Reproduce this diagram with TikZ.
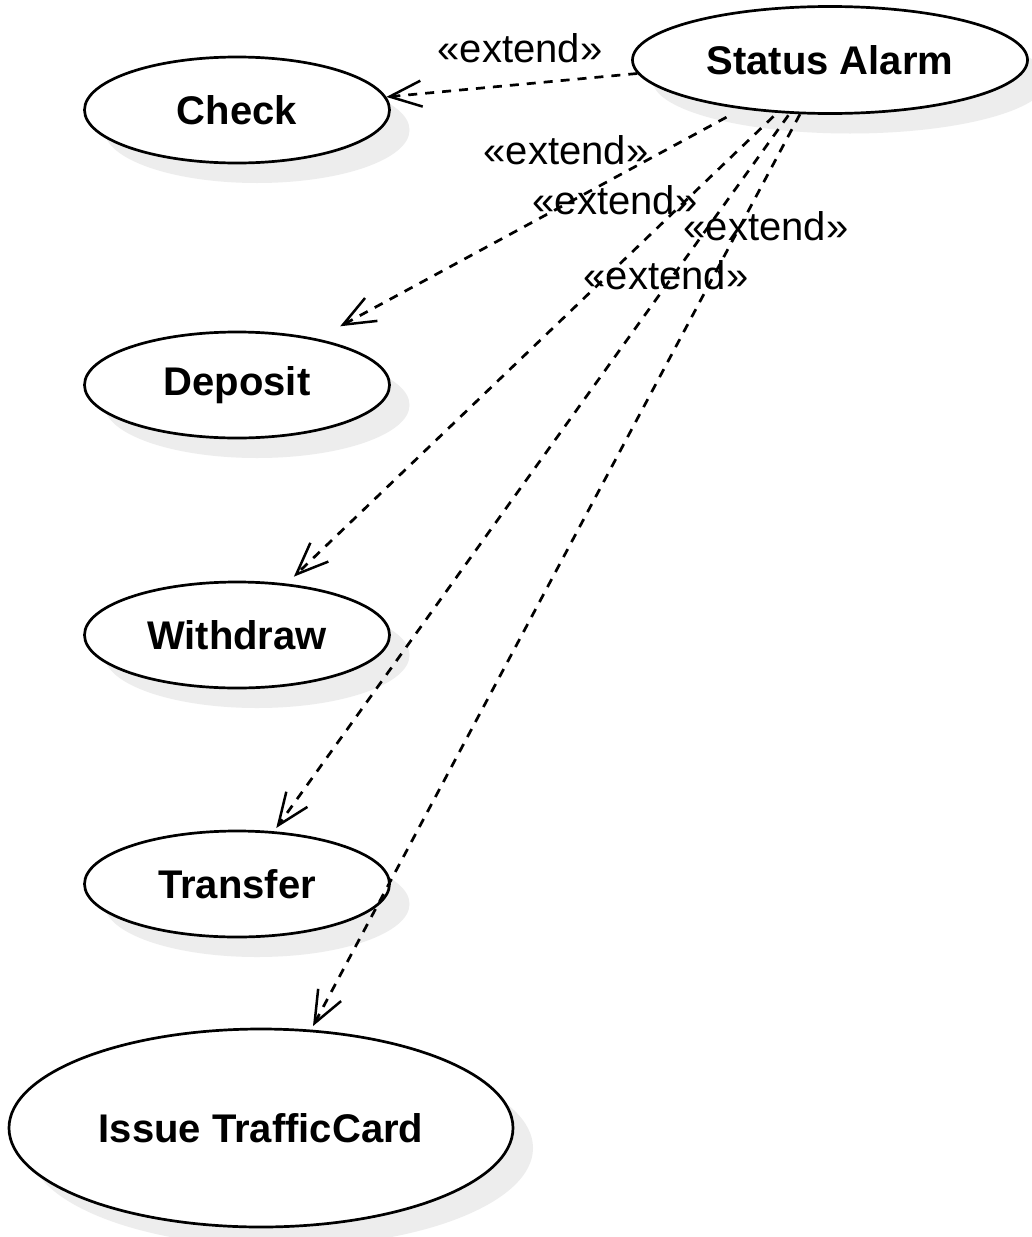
\documentclass[tikz,border=0pt]{standalone}
\usepackage{fontspec}
\setmainfont{Liberation Sans}
\usetikzlibrary{arrows.meta,shapes.geometric,shadows}
\begin{document}
\begin{tikzpicture}[x=1pt,y=-1pt,
  uc/.style={ellipse,draw=black,line width=2.7pt,fill=white,inner sep=0pt,
    font=\fontsize{40}{48}\selectfont\bfseries,
    general shadow={fill=black!7,shadow xshift=20pt,shadow yshift=-20pt}},
  ext/.style={line width=2.7pt,dash pattern=on 9pt off 8pt,
    -{Straight Barb[length=32pt,width=26pt,line width=2.5pt]}},
  lbl/.style={font=\fontsize{40}{48}\selectfont,inner sep=0pt}]
\fill[white] (0,0) rectangle (1032,1237);
\useasboundingbox (0,0) rectangle (1032,1237);
% use cases
\node[uc,minimum width=305pt,minimum height=106pt] (check) at (237,110) {Check};
\node[uc,minimum width=305pt,minimum height=106pt] (dep) at (237,385) {Deposit};
\node[uc,minimum width=305pt,minimum height=106pt] (wd) at (237,635) {Withdraw};
\node[uc,minimum width=305pt,minimum height=106pt] (tr) at (237,884) {Transfer};
\node[uc,minimum width=504pt,minimum height=198pt] (it) at (261,1128) {Issue TrafficCard};
\node[uc,minimum width=395pt,minimum height=107pt] (sa) at (830,60) {Status Alarm};
% extends
\draw[ext] (sa.184) -- (check.5);
\draw[ext,shorten <=17pt,shorten >=26pt] (sa.209) -- (dep.30);
\draw[ext,shorten <=5pt,shorten >=10pt] (sa.225) -- (wd.46);
\draw[ext,shorten <=2pt,shorten >=4pt] (sa.233) -- (tr.55);
\draw[ext,shorten >=4pt] (sa.241) -- (it.63);
% labels
\node[lbl] (l1) at (520,48) {«extend»};
\node[lbl] (l2) at (566,150) {«extend»};
\node[lbl] (l3) at (615,200) {«extend»};
\node[lbl] (l4) at (766,226) {«extend»};
\node[lbl] (l5) at (666,275) {«extend»};
\end{tikzpicture}
\end{document}
